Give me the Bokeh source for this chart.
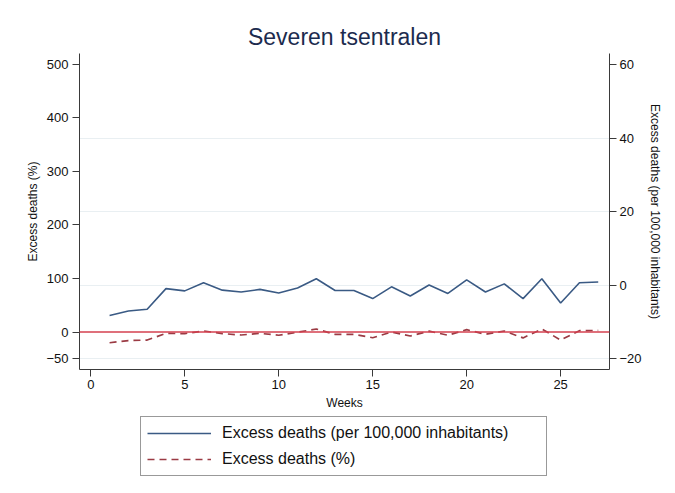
from bokeh.plotting import figure
from bokeh.layouts import column
from bokeh.models import LinearAxis, Range1d, FixedTicker, Span, Legend, LegendItem
from bokeh.embed import file_html
from bokeh.resources import INLINE

# ---- data ----
weeks = list(range(1, 28))
excess_per100k = [-8.2, -7.0, -6.5, -0.9, -1.5, 0.7, -1.3, -1.8, -1.1, -2.1,
                  -0.7, 1.8, -1.4, -1.4, -3.6, -0.4, -2.9, 0.1, -2.2, 1.5,
                  -1.8, 0.4, -3.6, 1.8, -4.8, 0.7, 0.9]
excess_pct = [-20, -16, -15, -2.5, -3, 2, -3, -5.6, -2.5, -6,
              -0.5, 5.6, -4.4, -4.4, -10.7, 0, -7.5, 1.5, -6, 4.4,
              -4.4, 1.9, -11, 5.6, -15, 2.5, 3]
x_ticks = [0, 5, 10, 15, 20, 25]
pct_ticks = [-50, 0, 100, 200, 300, 400, 500]
per100k_ticks = [-20, 0, 20, 40, 60]
grid_ticks = [-20, 0, 20, 40]
reference_pct = 0
series_labels = ["Excess deaths (per 100,000 inhabitants)", "Excess deaths (%)"]

FONT = "Liberation Sans"
AXIS_COLOR = "#3a3a3a"
TEXT_COLOR = "#111111"
BLUE = "#3a5a84"
MAROON = "#9b3b44"

W = 667

p = figure(width=W, height=412, output_backend="svg", toolbar_location=None,
           x_range=Range1d(-0.6, 27.6), y_range=Range1d(-22.9, 63.1),
           y_axis_location="right", title="Severen tsentralen",
           min_border_left=79, min_border_right=58, min_border_top=53,
           min_border_bottom=42)
p.extra_y_ranges = {"pct": Range1d(-70, 520)}
p.outline_line_color = None
p.background_fill_color = "white"
p.border_fill_color = "white"

# title
p.title.align = "center"
p.title.text_font = FONT
p.title.text_font_size = "23px"
p.title.text_font_style = "normal"
p.title.text_color = "#1c2b4e"
p.title.standoff = 8

# grid
p.xgrid.visible = False
p.ygrid.ticker = FixedTicker(ticks=grid_ticks)
p.ygrid.grid_line_color = "#e9eff2"
p.ygrid.grid_line_width = 1

def style_axis(ax, label, standoff):
    ax.axis_label = label
    ax.axis_label_text_font = FONT
    ax.axis_label_text_font_size = "12px"
    ax.axis_label_text_font_style = "normal"
    ax.axis_label_text_color = TEXT_COLOR
    ax.axis_label_standoff = standoff
    ax.major_label_text_font = FONT
    ax.major_label_text_font_size = "13px"
    ax.major_label_text_color = TEXT_COLOR
    ax.axis_line_color = AXIS_COLOR
    ax.major_tick_line_color = AXIS_COLOR
    ax.major_tick_out = 7
    ax.major_tick_in = 0
    ax.minor_tick_line_color = None

# right axis (per 100k, default range)
right_ax = p.yaxis[0]
right_ax.ticker = FixedTicker(ticks=per100k_ticks)
style_axis(right_ax, series_labels[0], 3)
right_ax.major_label_standoff = 3

# left axis (%)
left_ax = LinearAxis(y_range_name="pct", ticker=FixedTicker(ticks=pct_ticks))
style_axis(left_ax, series_labels[1], 3)
left_ax.major_label_standoff = 4
p.add_layout(left_ax, "left")

# x axis
xax = p.xaxis[0]
xax.ticker = FixedTicker(ticks=x_ticks)
style_axis(xax, "Weeks", 4)
xax.major_label_standoff = 3

p.line(weeks, excess_per100k, line_color=BLUE, line_width=1.6)
p.line(weeks, excess_pct, y_range_name="pct", line_color=MAROON,
       line_width=1.7, line_dash="7 5")

# zero reference line on % axis
zero = Span(location=reference_pct, dimension="width", y_range_name="pct",
            line_color="#d4404f", line_width=1.5)
p.add_layout(zero)

# ---- legend strip below the chart (its frame is aligned with the chart's frame) ----
lg = figure(width=W, height=65, output_backend="svg", toolbar_location=None,
            x_range=Range1d(-10, -9), y_range=Range1d(-10, -9),
            x_axis_type=None, y_axis_type=None,
            min_border_left=79, min_border_right=58, min_border_top=0, min_border_bottom=0)
lg.outline_line_color = None
lg.xgrid.visible = False
lg.ygrid.visible = False
# keys: same series, kept outside this strip's visible range so only the legend shows
k1 = lg.line(weeks, excess_per100k, line_color=BLUE, line_width=1.6)
k2 = lg.line(weeks, excess_pct, line_color=MAROON, line_width=1.6, line_dash="7 5")

legend = Legend(items=[LegendItem(label=series_labels[0], renderers=[k1]),
                       LegendItem(label=series_labels[1], renderers=[k2])],
                location=(61, 1), orientation="vertical")
legend.label_text_font = FONT
legend.label_text_font_size = "16px"
legend.label_text_color = TEXT_COLOR
legend.glyph_width = 64
legend.glyph_height = 20
legend.label_standoff = 11
legend.label_width = 318
legend.padding = 6
legend.spacing = 6
legend.margin = 0
legend.border_line_color = "#333333"
legend.border_line_width = 1
legend.background_fill_color = "white"
legend.background_fill_alpha = 1
lg.add_layout(legend)

layout = column(p, lg, spacing=0)
open("out.html", "w").write(file_html(layout, INLINE))
